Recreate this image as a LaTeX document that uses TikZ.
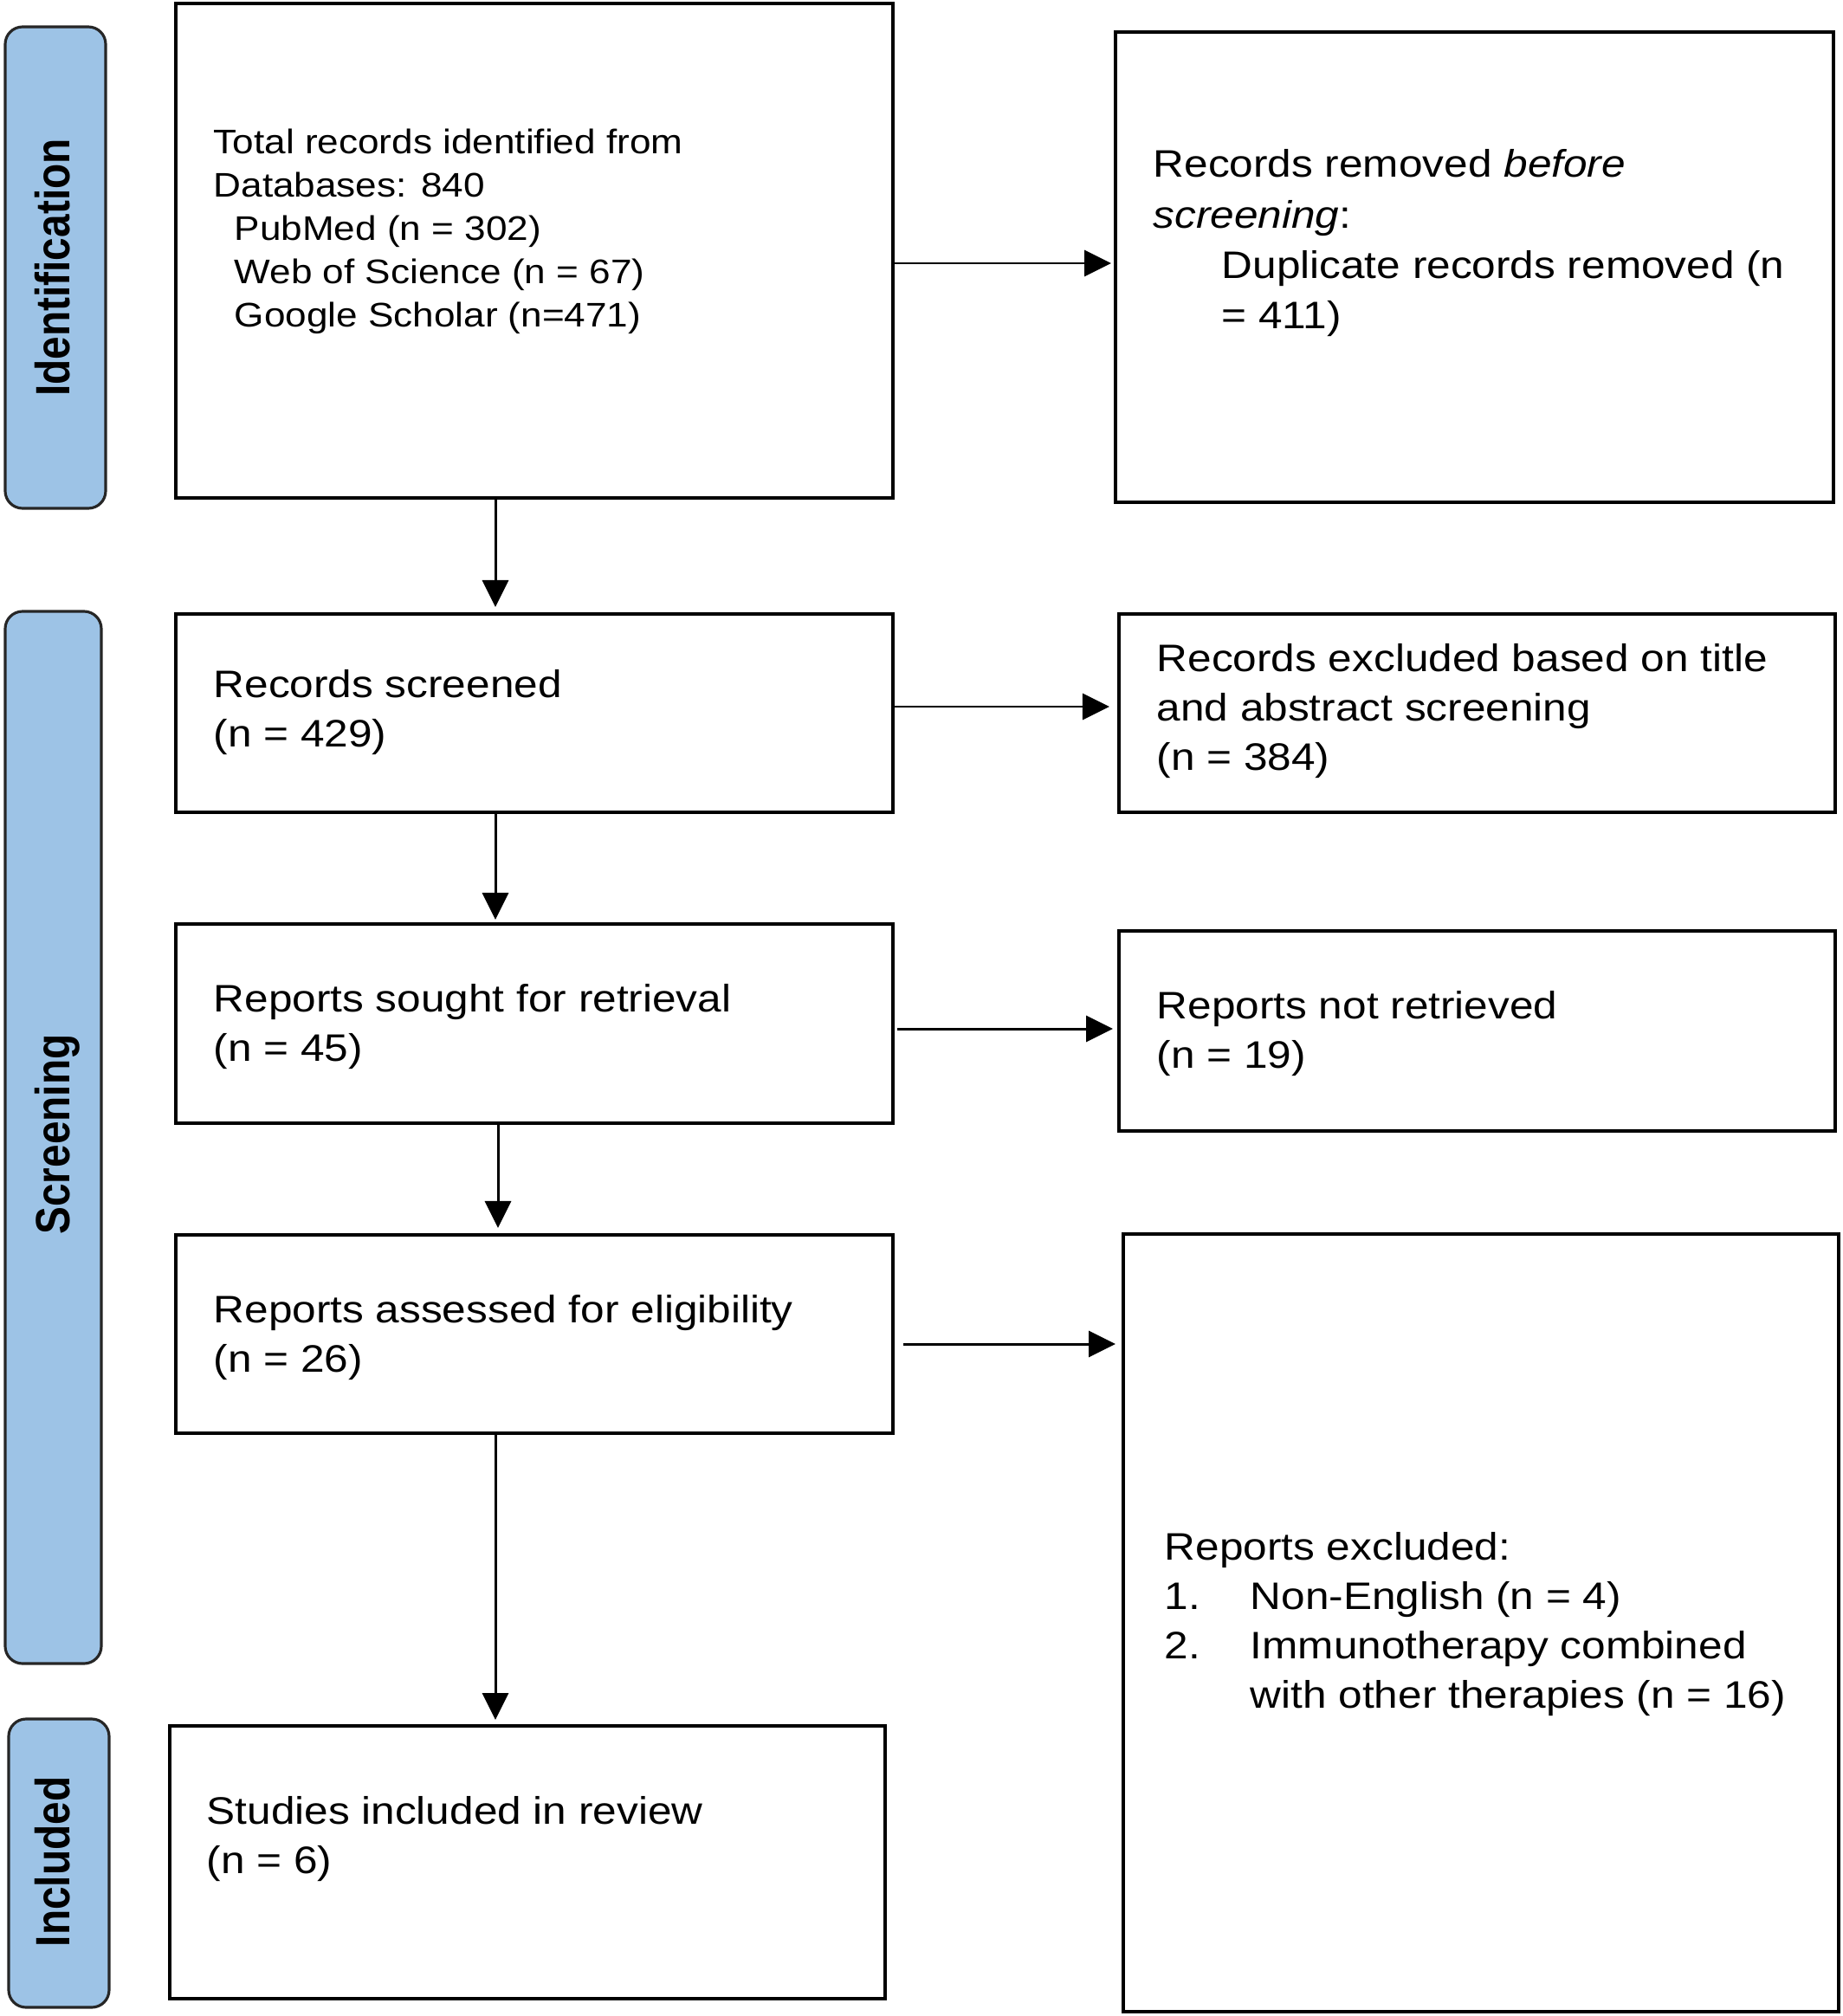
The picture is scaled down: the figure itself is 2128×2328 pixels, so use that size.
\documentclass[tikz,border=0pt]{standalone}
\usepackage{fontspec}
\setmainfont{Liberation Sans}
\newfontfamily\bodyfont[FakeStretch=1.12]{Liberation Sans}
\newfontfamily\labfont[FakeStretch=0.86]{Liberation Sans}
\usetikzlibrary{arrows.meta,fit}
\newcommand\lns[1]{\begin{tabular}[t]{@{}l@{}}#1\end{tabular}}
\definecolor{labblue}{HTML}{9DC3E6}
\begin{document}
\begin{tikzpicture}[x=0.01cm,y=-0.01cm,
  box/.style={draw=black, line width=1pt, inner sep=0pt, outer sep=0pt},
  phase/.style={draw=black!85, fill=labblue, line width=0.9pt, rounded corners=0.2cm, inner sep=0pt, outer sep=0pt},
  phasetxt/.style={rotate=90, anchor=base, inner sep=0pt, font=\labfont\bfseries\fontsize{15.8}{18}\selectfont},
  txt/.style={anchor=base west, inner sep=0pt, font=\bodyfont\fontsize{12.58}{16.3}\selectfont},
  smalltxt/.style={txt, font=\bodyfont\fontsize{11.2}{14.2}\selectfont},
  arr/.style={line width=0.85pt, -{Triangle[length=0.31cm,width=0.3cm]}}]
\useasboundingbox (0,0) rectangle (2128,2328);

% phase labels
\node[phase, fit={(6,31) (122,587)}] (p1) {};
\node[phase, fit={(6,706) (117,1921)}] (p2) {};
\node[phase, fit={(10,1985) (126,2318)}] (p3) {};
\node[phasetxt] (p1t) at (80,309) {Identification};
\node[phasetxt] (p2t) at (80,1310) {Screening};
\node[phasetxt] (p3t) at (80,2150) {Included};

% boxes
\node[box, fit={(203,4) (1031,575)}] (b1) {};
\node[box, fit={(1288,37) (2117,580)}] (b2) {};
\node[box, fit={(203,709) (1031,938)}] (b3) {};
\node[box, fit={(1292,709) (2119,938)}] (b4) {};
\node[box, fit={(203,1067) (1031,1297)}] (b5) {};
\node[box, fit={(1292,1075) (2119,1306)}] (b6) {};
\node[box, fit={(203,1426) (1031,1655)}] (b7) {};
\node[box, fit={(1297,1425) (2123,2323)}] (b8) {};
\node[box, fit={(196,1993) (1022,2308)}] (b9) {};

% texts
\node[smalltxt] (t1) at (246,178) {\lns{Total records identified from\\Databases: 840\\\hspace{0.24cm}PubMed (n = 302)\\\hspace{0.24cm}Web of Science (n = 67)\\\hspace{0.24cm}Google Scholar (n=471)}};
\node[txt, font=\bodyfont\fontsize{12.58}{16.5}\selectfont] (t2) at (1331,205) {\lns{Records removed \textit{before}\\\textit{screening}:\\\hspace{0.79cm}Duplicate records removed (n\\\hspace{0.79cm}= 411)}};
\node[txt] (t3) at (246,805) {\lns{Records screened\\(n = 429)}};
\node[txt] (t4) at (1335,775) {\lns{Records excluded based on title\\and abstract screening\\(n = 384)}};
\node[txt] (t5) at (246,1168) {\lns{Reports sought for retrieval\\(n = 45)}};
\node[txt] (t6) at (1335,1176) {\lns{Reports not retrieved\\(n = 19)}};
\node[txt] (t7) at (246,1527) {\lns{Reports assessed for eligibility\\(n = 26)}};
\node[txt] (t8) at (1344,1801) {\lns{Reports excluded:\\\makebox[0.99cm][l]{1.}Non-English (n = 4)\\\makebox[0.99cm][l]{2.}Immunotherapy combined\\\hspace{0.99cm}with other therapies (n = 16)}};
\node[txt] (t9) at (238,2106) {\lns{Studies included in review\\(n = 6)}};

% arrow guide coordinates
\coordinate (y1) at (0,304);
\coordinate (y3) at (0,816);
\coordinate (y5) at (0,1188);
\coordinate (y7) at (0,1552);
\coordinate (xa) at (572,0);
\coordinate (xb) at (575,0);

% arrows
\draw[arr, shorten >=0.05cm] (b1.east |- y1) -- (b2.west |- y1);
\draw[arr, shorten >=0.08cm] (b1.south -| xa) -- (b3.north -| xa);
\draw[arr, shorten >=0.11cm] (b3.east |- y3) -- (b4.west |- y3);
\draw[arr, shorten >=0.05cm] (b3.south -| xa) -- (b5.north -| xa);
\draw[arr, shorten <=0.05cm, shorten >=0.07cm] (b5.east |- y5) -- (b6.west |- y5);
\draw[arr, shorten >=0.08cm] (b5.south -| xb) -- (b7.north -| xb);
\draw[arr, shorten <=0.12cm, shorten >=0.09cm] (b7.east |- y7) -- (b8.west |- y7);
\draw[arr, shorten >=0.07cm] (b7.south -| xa) -- (b9.north -| xa);
\end{tikzpicture}
\end{document}
